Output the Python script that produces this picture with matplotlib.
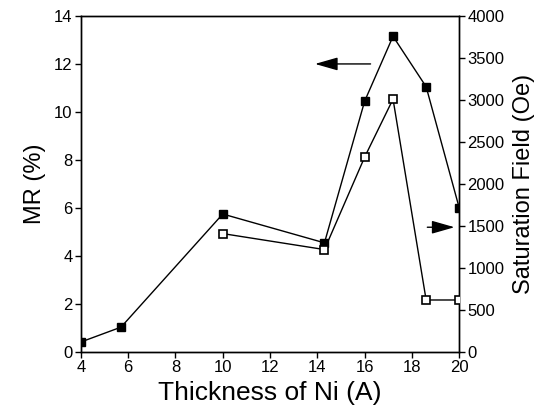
import matplotlib.pyplot as plt

plt.rcParams['font.family'] = ['Liberation Sans', 'DejaVu Sans']

# MR data (filled squares, left axis)
thickness_mr = [4.0, 5.7, 10.0, 14.3, 16.0, 17.2, 18.6, 20.0]
mr = [0.42, 1.04, 5.75, 4.55, 10.45, 13.15, 11.05, 6.0]

# Saturation field data (open squares, right axis)
thickness_hs = [10.0, 14.3, 16.0, 17.2, 18.6, 20.0]
sat_field = [1410, 1220, 2320, 3010, 620, 620]

x_ticks = [4, 6, 8, 10, 12, 14, 16, 18, 20]
mr_ticks = [0, 2, 4, 6, 8, 10, 12, 14]
hs_ticks = [0, 500, 1000, 1500, 2000, 2500, 3000, 3500, 4000]

fig = plt.figure(figsize=(5.5, 4.08), dpi=100)
ax = fig.add_axes([0.147, 0.137, 0.688, 0.824])
ax2 = ax.twinx()

ax.plot(thickness_mr, mr, color='black', lw=1.0, marker='s', ms=6,
        mfc='black', mec='black', zorder=3)
ax2.plot(thickness_hs, sat_field, color='black', lw=1.0, marker='s', ms=6,
         mfc='white', mec='black', mew=1.2, zorder=3)

ax.set_xlim(4, 20)
ax.set_ylim(0, 14)
ax2.set_ylim(0, 4000)
ax.set_xticks(x_ticks)
ax.set_yticks(mr_ticks)
ax2.set_yticks(hs_ticks)

for a in (ax, ax2):
    a.tick_params(direction='out', length=4, width=1, labelsize=12, pad=2)
    for s in a.spines.values():
        s.set_linewidth(1.0)

ax.set_xlabel('Thickness of Ni (A)', fontsize=19, labelpad=4)
ax.set_ylabel('MR (%)', fontsize=17, labelpad=6)
ax2.set_ylabel('Saturation Field (Oe)', fontsize=17, labelpad=6)

# arrows pointing to the axes
arrow_style = '-|>,head_length=0.7,head_width=0.2'
ax.annotate('', xy=(13.9, 12.0), xytext=(16.25, 12.0),
            arrowprops=dict(arrowstyle=arrow_style, color='black', lw=1.0,
                            mutation_scale=20, shrinkA=0, shrinkB=0))
ax.annotate('', xy=(19.8, 5.2), xytext=(18.65, 5.2),
            arrowprops=dict(arrowstyle=arrow_style, color='black', lw=1.0,
                            mutation_scale=20, shrinkA=0, shrinkB=0))

plt.savefig('out.png', dpi=100)
